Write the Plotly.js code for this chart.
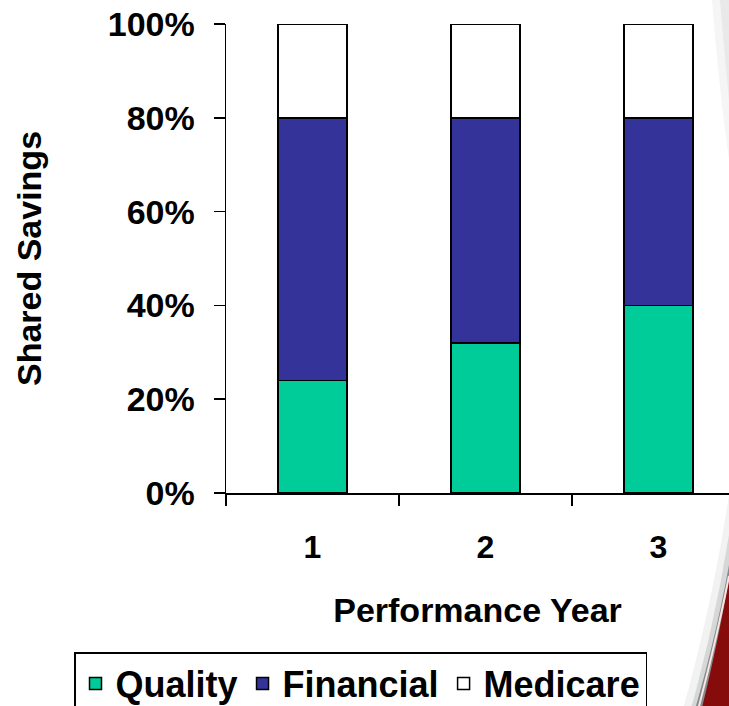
<!DOCTYPE html>
<html>
<head>
<meta charset="utf-8">
<script src="https://cdn.plot.ly/plotly-3.0.1.min.js"></script>
<style>
  html, body { margin: 0; padding: 0; background: #ffffff; overflow: hidden; }
  #chart { width: 729px; height: 740px; }
</style>
</head>
<body>
<div id="chart"></div>
<script>
// Share of savings by performance year (percent of total)
const years = ['1', '2', '3'];
const quality = [24, 32, 40];
const financial = [56, 48, 40];
const medicare = [20, 20, 20];
const yTickVals = [0, 20, 40, 60, 80, 100];
const yTickText = ['0%', '20%', '40%', '60%', '80%', '100%'];

// The figure runs a little past the bottom of the window so the legend box is cut off there
const W = 729, H = 740;
const M = { l: 226, r: 0, t: 24, b: 247 };

// pixel -> paper helpers for the decorative slide swoosh on the right edge
const plotW = W - M.l - M.r, plotH = H - M.t - M.b;
const px = x => (x - M.l) / plotW;
const py = y => (H - M.b - y) / plotH;
function pathFrom(cmds) {
  return cmds.map(c => {
    if (c[0] === 'Z') return 'Z';
    if (c[0] === 'Q') return `Q${px(c[1])},${py(c[2])} ${px(c[3])},${py(c[4])}`;
    return `${c[0]}${px(c[1])},${py(c[2])}`;
  }).join(' ');
}
function deco(cmds, fill, line) {
  return {
    type: 'path', xref: 'paper', yref: 'paper', layer: 'above',
    path: pathFrom(cmds),
    fillcolor: fill || 'rgba(0,0,0,0)',
    line: line || { width: 0 }
  };
}

const swoosh = [
  deco([['M', 712, 0], ['Q', 718, 80, 729, 160], ['L', 729, 0], ['Z']], 'rgba(170,170,170,0.12)'),
  deco([['M', 720, 0], ['Q', 724, 50, 729, 100], ['L', 729, 0], ['Z']], 'rgba(150,150,150,0.12)'),
  deco([['M', 729, 495], ['Q', 710, 620, 674, 740], ['L', 729, 740], ['Z']], 'rgba(160,160,160,0.14)'),
  deco([['M', 729, 535], ['Q', 712, 640, 682, 740], ['L', 729, 740], ['Z']], 'rgba(130,135,135,0.25)'),
  deco([['M', 729, 565], ['Q', 714, 648, 686, 740], ['L', 729, 740], ['Z']], 'rgba(95,108,108,0.7)'),
  deco([['M', 729, 578], ['Q', 717, 650, 694, 740], ['L', 729, 740], ['Z']], '#860b0b'),
  deco([['M', 729, 576], ['Q', 715, 648, 690, 740]], null, { color: 'rgba(255,232,232,0.95)', width: 2 })
];

const font = 'Liberation Sans, Arial, sans-serif';
const lineBlack = { color: '#000000', width: 1.5 };

const traces = [
  { name: 'Quality', y: quality, color: '#00CC99' },
  { name: 'Financial', y: financial, color: '#333399' },
  { name: 'Medicare', y: medicare, color: '#FFFFFF' }
].map(s => ({
  type: 'bar',
  x: years,
  y: s.y,
  name: s.name,
  marker: { color: s.color, line: lineBlack },
  hoverinfo: 'skip'
}));

const layout = {
  width: W, height: H,
  margin: M,
  paper_bgcolor: '#ffffff',
  plot_bgcolor: 'rgba(0,0,0,0)',
  barmode: 'stack',
  bargap: 0.6,
  showlegend: true,
  font: { family: font, color: '#000000' },
  xaxis: {
    type: 'category',
    range: [-0.5, 2.408],
    tickson: 'boundaries',
    ticks: 'outside', ticklen: 11, tickwidth: 1.5, tickcolor: '#000',
    showline: true, linecolor: '#000', linewidth: 1.5,
    showgrid: false, zeroline: false,
    tickfont: { family: font, size: 32, weight: 'bold' },
    ticklabelstandoff: 25,
    title: { text: 'Performance Year', font: { family: font, size: 34, weight: 'bold' }, standoff: 34 },
    fixedrange: true
  },
  yaxis: {
    range: [0, 100],
    tickvals: yTickVals,
    ticktext: yTickText,
    ticks: 'outside', ticklen: 11, tickwidth: 1.5, tickcolor: '#000',
    showline: true, linecolor: '#000', linewidth: 1.5,
    showgrid: false, zeroline: false,
    tickfont: { family: font, size: 34, weight: 'bold' },
    ticklabelstandoff: 12,
    title: { text: 'Shared Savings', font: { family: font, size: 34, weight: 'bold' }, standoff: 56 },
    fixedrange: true
  },
  legend: {
    orientation: 'h',
    traceorder: 'normal',
    x: px(74), xanchor: 'left',
    y: py(652), yanchor: 'top',
    bgcolor: '#ffffff',
    bordercolor: '#000000', borderwidth: 1.5,
    font: { family: font, size: 36, weight: 'bold' },
    itemwidth: 30
  },
  shapes: swoosh
};

Plotly.newPlot('chart', traces, layout, { displayModeBar: false, staticPlot: true });
</script>
</body>
</html>
